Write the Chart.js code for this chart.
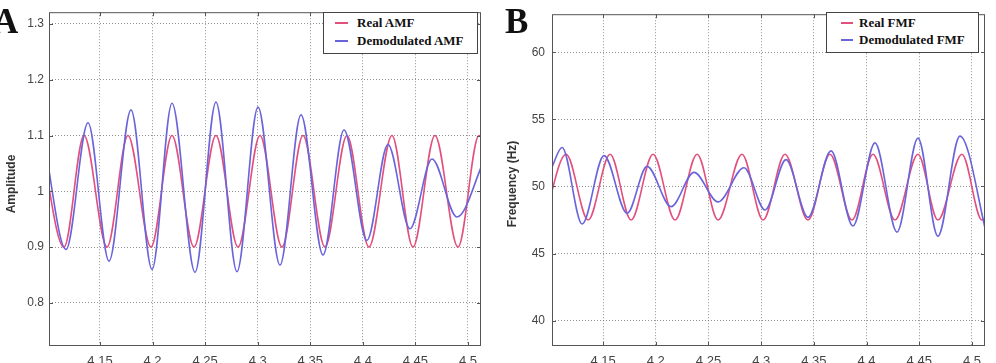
<!DOCTYPE html>
<html>
<head>
<meta charset="utf-8">
<script src="https://cdn.jsdelivr.net/npm/chart.js@4.4.1/dist/chart.umd.min.js"></script>
<style>
  body { margin: 0; background: #fff; width: 996px; height: 363px; overflow: hidden; position: relative;
         font-family: "Liberation Sans", Arial, sans-serif; }
  .panel { position: absolute; top: 0; width: 498px; height: 363px; }
  .panel canvas { position: absolute; left: 0; top: 0; }
  .letter { position: absolute; top: 4px; font-family: "Liberation Serif", serif; font-weight: bold;
            font-size: 35px; line-height: 1; color: #111; }
  .ytitle { position: absolute; font-weight: bold; font-size: 12px; color: #333; white-space: nowrap;
            transform: translate(-50%, -50%) rotate(-90deg); }
  .legend { position: absolute; box-sizing: border-box; background: #fff; border: 1px solid #444;
            font-family: "Liberation Serif", serif; font-weight: bold; font-size: 13px; color: #111; }
  .legend .row { position: absolute; white-space: nowrap; line-height: 14px; }
  .legend .sw { position: absolute; height: 2px; }
</style>
</head>
<body>
<div class="panel" id="pa" style="left:0"><canvas id="chartA" width="498" height="363"></canvas></div>
<div class="panel" id="pb" style="left:498px"><canvas id="chartB" width="498" height="363"></canvas></div>
<div class="letter" style="left:-7px">A</div>
<div class="letter" style="left:505px">B</div>
<div class="ytitle" style="left:11px; top:184px">Amplitude</div>
<div class="ytitle" style="left:512px; top:184px">Frequency (Hz)</div>
<div class="legend" id="legA" style="left:323px; top:12px; width:155px; height:42px"></div>
<div class="legend" id="legB" style="left:826px; top:12px; width:153px; height:41px"></div>
<script>
// shared axis
const xTicks = [4.15, 4.2, 4.25, 4.3, 4.35, 4.4, 4.45, 4.5];
const xRange = [4.1015, 4.5124];

// panel A: amplitude modulating function
const ampTicks = [0.8, 0.9, 1, 1.1, 1.2, 1.3];
const ampRange = [0.7228, 1.3211];
const realAmfT = [4.0929, 4.1158, 4.1348, 4.1567, 4.1766, 4.1985, 4.2185, 4.2394, 4.2603, 4.2813, 4.3022,
                  4.3231, 4.3431, 4.3640, 4.3849, 4.4058, 4.4277, 4.4477, 4.4686, 4.4905, 4.5105, 4.5323];
const realAmfV = [1.1, 0.9, 1.1, 0.9, 1.1, 0.9, 1.1, 0.9, 1.1, 0.9, 1.1,
                  0.9, 1.1, 0.9, 1.1, 0.9, 1.1, 0.9, 1.1, 0.9, 1.1, 0.9];
const demodAmfT = [4.0967, 4.1177, 4.1386, 4.1586, 4.1795, 4.1995, 4.2185, 4.2404, 4.2603, 4.2803, 4.3003,
                   4.3212, 4.3412, 4.3621, 4.3821, 4.4039, 4.4239, 4.4448, 4.4658, 4.4895, 4.5152];
const demodAmfV = [1.09, 0.896, 1.123, 0.875, 1.146, 0.86, 1.158, 0.855, 1.16, 0.856, 1.151,
                   0.868, 1.137, 0.886, 1.11, 0.912, 1.084, 0.933, 1.058, 0.954, 1.055];

// panel B: frequency modulating function
const freqTicks = [40, 45, 50, 55, 60];
const freqRange = [38.11, 62.84];
const realFmfT = [4.0940, 4.1149, 4.1358, 4.1566, 4.1766, 4.1974, 4.2183, 4.2392, 4.2591, 4.2818, 4.3018,
                  4.3226, 4.3444, 4.3653, 4.3862, 4.4061, 4.4270, 4.4488, 4.4677, 4.4905, 4.5095, 4.5303];
const realFmfV = [47.5, 52.4, 47.5, 52.4, 47.5, 52.4, 47.5, 52.4, 47.5, 52.4, 47.5,
                  52.4, 47.5, 52.4, 47.5, 52.4, 47.5, 52.4, 47.5, 52.4, 47.5, 52.4];
const demodFmfT = [4.1007, 4.1111, 4.1301, 4.1509, 4.1728, 4.1917, 4.2145, 4.2363, 4.2591, 4.2837, 4.3037,
                   4.3236, 4.3444, 4.3663, 4.3871, 4.4080, 4.4289, 4.4488, 4.4677, 4.4886, 4.5152];
const demodFmfV = [51.3, 52.9, 47.2, 52.3, 48.0, 51.5, 48.5, 51.05, 48.85, 51.4, 48.25,
                   52.0, 47.7, 52.65, 47.05, 53.25, 46.6, 53.6, 46.3, 53.75, 46.0];

const RED = '#e2507c';
const BLUE = '#6a64dc';

const pts = (t, v) => t.map((x, i) => ({ x: x, y: v[i] }));

// matlab style box with small inward ticks
const frame = {
  id: 'frame',
  afterDatasetsDraw(chart) {
    const { ctx, chartArea: a, scales: { x, y } } = chart;
    ctx.save();
    ctx.strokeStyle = '#555';
    ctx.lineWidth = 1;
    ctx.strokeRect(a.left + 0.5, a.top + 0.5, a.width - 1, a.height - 1);
    ctx.beginPath();
    x.ticks.forEach(t => {
      const p = Math.round(x.getPixelForValue(t.value)) + 0.5;
      ctx.moveTo(p, a.bottom); ctx.lineTo(p, a.bottom - 4);
      ctx.moveTo(p, a.top); ctx.lineTo(p, a.top + 4);
    });
    y.ticks.forEach(t => {
      const p = Math.round(y.getPixelForValue(t.value)) + 0.5;
      ctx.moveTo(a.left, p); ctx.lineTo(a.left + 4, p);
      ctx.moveTo(a.right, p); ctx.lineTo(a.right - 4, p);
    });
    ctx.stroke();
    ctx.restore();
  }
};

function makePanel(id, cfg) {
  const datasets = [
    { label: cfg.labels[0], data: pts(cfg.real[0], cfg.real[1]), borderColor: RED, order: 1 },
    { label: cfg.labels[1], data: pts(cfg.demod[0], cfg.demod[1]), borderColor: BLUE, order: 0 }
  ].map(d => Object.assign(d, {
    borderWidth: 1.6, pointRadius: 0, fill: false, cubicInterpolationMode: 'monotone'
  }));

  const chart = new Chart(document.getElementById(id), {
    type: 'line',
    data: { datasets: datasets },
    plugins: [frame],
    options: {
      responsive: false,
      animation: false,
      events: [],
      layout: { padding: cfg.padding },
      plugins: { legend: { display: false }, tooltip: { enabled: false } },
      scales: {
        x: {
          type: 'linear', min: xRange[0], max: xRange[1],
          afterBuildTicks: s => { s.ticks = xTicks.map(v => ({ value: v })); },
          afterFit: s => { s.height = 17; },
          grid: { color: 'rgba(110,110,110,0.75)', lineWidth: 1, drawTicks: false },
          border: { display: false, dash: [1, 2] },
          ticks: { padding: 8, color: '#444', font: { family: 'Liberation Sans', size: 13 },
                   maxRotation: 0, callback: v => String(v) }
        },
        y: {
          type: 'linear', min: cfg.yRange[0], max: cfg.yRange[1],
          afterBuildTicks: s => { s.ticks = cfg.yTicks.map(v => ({ value: v })); },
          afterFit: s => { s.width = cfg.yWidth; },
          grid: { color: 'rgba(110,110,110,0.75)', lineWidth: 1, drawTicks: false },
          border: { display: false, dash: [1, 2] },
          ticks: { padding: cfg.yPad, color: '#444', font: { family: 'Liberation Sans', size: 12 },
                   callback: v => String(v) }
        }
      }
    }
  });

  // legend box inside the plot, built from the datasets
  const leg = document.getElementById(cfg.legend);
  chart.data.datasets.forEach((d, i) => {
    const cy = cfg.legRows[i];
    const sw = document.createElement('div');
    sw.className = 'sw';
    sw.style.cssText = `left:${cfg.legSw[0]}px; width:${cfg.legSw[1]}px; top:${cy - 1}px; background:${d.borderColor}`;
    const row = document.createElement('div');
    row.className = 'row';
    row.style.cssText = `left:${cfg.legText}px; top:${cy - 7}px`;
    row.textContent = d.label;
    leg.appendChild(sw);
    leg.appendChild(row);
  });
  return chart;
}

makePanel('chartA', {
  labels: ['Real AMF', 'Demodulated AMF'],
  real: [realAmfT, realAmfV], demod: [demodAmfT, demodAmfV],
  yTicks: ampTicks, yRange: ampRange, yWidth: 49, yPad: 5,
  padding: { left: 0, top: 5, right: 17, bottom: 0 },
  legend: 'legA', legRows: [10, 28], legSw: [11, 13], legText: 33
});

makePanel('chartB', {
  labels: ['Real FMF', 'Demodulated FMF'],
  real: [realFmfT, realFmfV], demod: [demodFmfT, demodFmfV],
  yTicks: freqTicks, yRange: freqRange, yWidth: 54, yPad: 7,
  padding: { left: 0, top: 6, right: 11, bottom: 0 },
  legend: 'legB', legRows: [10, 27], legSw: [14, 12], legText: 32
});
</script>
</body>
</html>
